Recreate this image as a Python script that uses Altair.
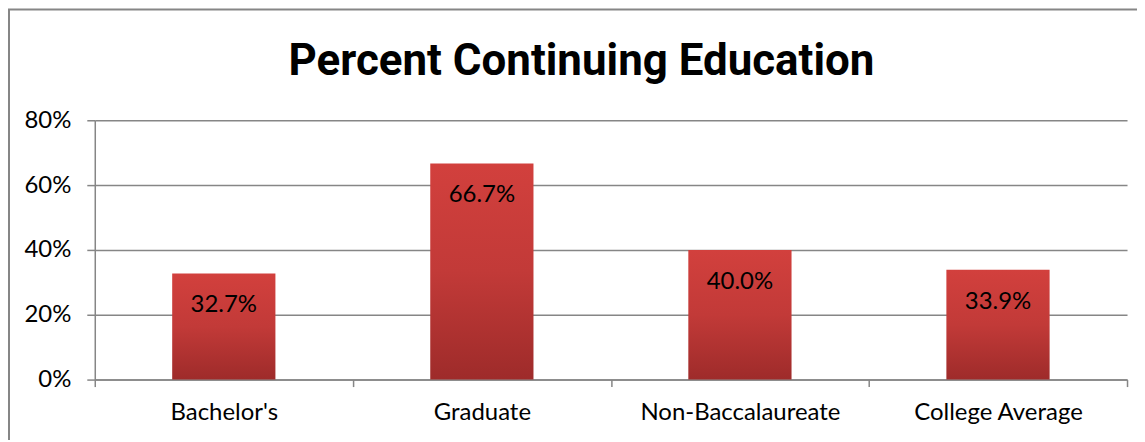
import altair as alt
import pandas as pd

categories = ["Bachelor's", "Graduate", "Non-Baccalaureate", "College Average"]
values = [0.327, 0.667, 0.400, 0.339]
title_text = "Percent Continuing Education"

df = pd.DataFrame({"cat": categories, "val": values})

FONT = "Lato"
TITLE_FONT = "Roboto"
GRAY = "#868686"

base = alt.Chart(df)

x_enc = alt.X(
    "cat:N", sort=categories, title=None,
    scale=alt.Scale(paddingInner=0, paddingOuter=0),
    axis=alt.Axis(labelAngle=0, labelFontSize=24, labelFont=FONT, labelColor="#000",
                  domainColor=GRAY, tickColor=GRAY, tickSize=7, tickBand="extent",
                  labelPadding=14, domainWidth=1.5, tickWidth=1.5, labelLimit=0),
)
y_enc = alt.Y(
    "val:Q", title=None,
    scale=alt.Scale(domain=[0, 0.8], nice=False),
    axis=alt.Axis(format=".0%", values=[0, 0.2, 0.4, 0.6, 0.8], labelFontSize=24,
                  labelFont=FONT, labelColor="#000", domainColor=GRAY, tickColor=GRAY,
                  tickSize=8, labelPadding=16, gridColor=GRAY, gridWidth=1.5,
                  domainWidth=1.5, tickWidth=1.5),
)

bars = base.mark_bar(
    width=alt.RelativeBandSize(0.4),
    color=alt.Gradient(
        gradient="linear", x1=0, x2=0, y1=0, y2=1,
        stops=[alt.GradientStop(offset=0, color="#d2403d"),
               alt.GradientStop(offset=0.5, color="#c23a38"),
               alt.GradientStop(offset=1, color="#9e2b2a")],
    ),
).encode(x=x_enc, y=y_enc)

labels = base.mark_text(
    font=FONT, fontSize=24, color="#000", baseline="alphabetic", dy=39
).encode(x=alt.X("cat:N", sort=categories), y="val:Q", text=alt.Text("val:Q", format=".1%"))

title = alt.Chart(alt.Data(values=[{"t": title_text}])).mark_text(
    font=TITLE_FONT, fontSize=44, fontWeight="bold", color="#000", align="center",
    baseline="alphabetic",
).encode(x=alt.value(488), y=alt.value(-45), text="t:N")

border = alt.Chart(alt.Data(values=[{}])).mark_rect(
    fill=None, stroke=GRAY, strokeWidth=2
).encode(x=alt.value(-86), x2=alt.value(1100), y=alt.value(-111), y2=alt.value(400))

chart = alt.layer(border, bars, labels, title).properties(
    width=1035, height=260,
    padding={"left": 87, "top": 112, "right": 10, "bottom": 60},
    autosize=alt.AutoSizeParams(type="none"),
).configure_view(stroke=None)

chart.save("out.html", embed_options={"renderer": "svg", "actions": False})
